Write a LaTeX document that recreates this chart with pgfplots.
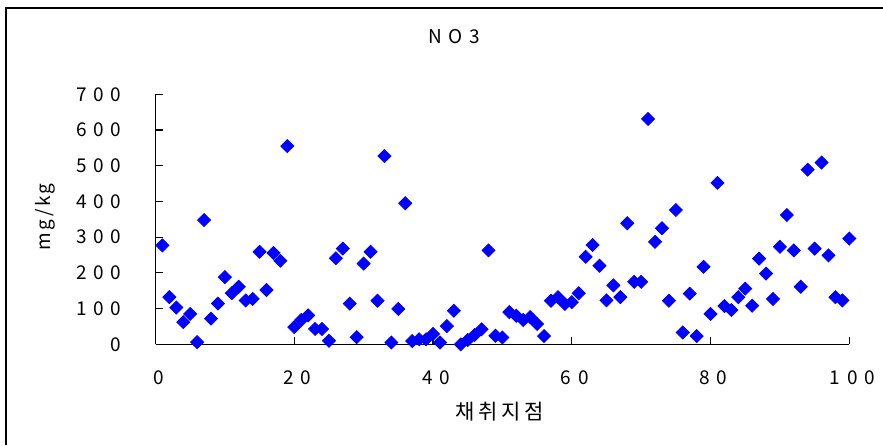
\documentclass[border=0pt]{standalone}
\usepackage{fontspec}
\usepackage{pgfplots}
\pgfplotsset{compat=1.18}
\setmainfont[LetterSpace=35]{Noto Sans CJK KR}
\newfontfamily\kr[LetterSpace=18]{Noto Sans CJK KR}
\newfontfamily\ylab[LetterSpace=12]{Noto Sans CJK KR}
\begin{document}
\begin{tikzpicture}
\useasboundingbox (0pt,0pt) rectangle (441.5pt,222.5pt);
\draw[line width=1pt] (3pt,0pt) -- (3pt,218.5pt) -- (441.5pt,218.5pt);
\begin{axis}[
  at={(77.75pt,50.35pt)}, anchor=south west,
  scale only axis, width=346.9pt, height=125pt,
  xmin=0, xmax=100, ymin=0, ymax=700,
  axis x line=bottom, axis y line=left,
  axis line style={-, line width=0.6pt, black},
  xtick={0,20,...,100}, ytick={0,100,...,700},
  tick align=inside, major tick length=3.5pt,
  tick style={line width=0.6pt, black},
  /pgf/number format/assume math mode=true,
  tick label style={font=\fontsize{9.5}{11}\selectfont},
  xticklabel style={inner sep=0pt, anchor=north, yshift=-13.2pt, xshift=1.5pt},
  yticklabel style={inner sep=0pt, anchor=east, xshift=-17pt},
  clip=false,
]
\addplot[only marks, mark=square*, mark size=2.3pt, mark options={rotate=45, fill=blue, draw=blue}, color=blue] coordinates {
(1,277)(2,132)(3,103)(4,62)(5,85)(6,6)(7,348)(8,72)(9,114)(10,188)
(11,143)(12,161)(13,123)(14,127)(15,259)(16,152)(17,256)(18,234)(19,555)(20,48)
(21,68)(22,81)(23,43)(24,43)(25,10)(26,241)(27,268)(28,114)(29,20)(30,226)
(31,259)(32,122)(33,527)(34,5)(35,99)(36,395)(37,9)(38,14)(39,14)(40,29)
(41,5)(42,51)(43,94)(44,0)(45,12)(46,26)(47,42)(48,263)(49,24)(50,19)
(51,90)(52,80)(53,68)(54,76)(55,57)(56,23)(57,122)(58,132)(59,113)(60,118)
(61,143)(62,245)(63,278)(64,220)(65,123)(66,165)(67,132)(68,339)(69,175)(70,175)
(71,631)(72,287)(73,325)(74,122)(75,376)(76,33)(77,142)(78,23)(79,217)(80,85)
(81,452)(82,107)(83,96)(84,132)(85,156)(86,108)(87,240)(88,198)(89,127)(90,273)
(91,362)(92,263)(93,161)(94,489)(95,268)(96,509)(97,249)(98,132)(99,123)(100,296)
};
\end{axis}
\node[font=\fontsize{9.5}{11}\selectfont, inner sep=0pt] at (227pt,204pt) {NO3};
\node[font=\kr\fontsize{10.5}{12}\selectfont, inner sep=0pt] at (250pt,16.5pt) {채취지점};
\node[font=\ylab\fontsize{9.5}{11}\selectfont, inner sep=0pt, rotate=90] at (22.75pt,114pt) {mg/kg};
\end{tikzpicture}
\end{document}
